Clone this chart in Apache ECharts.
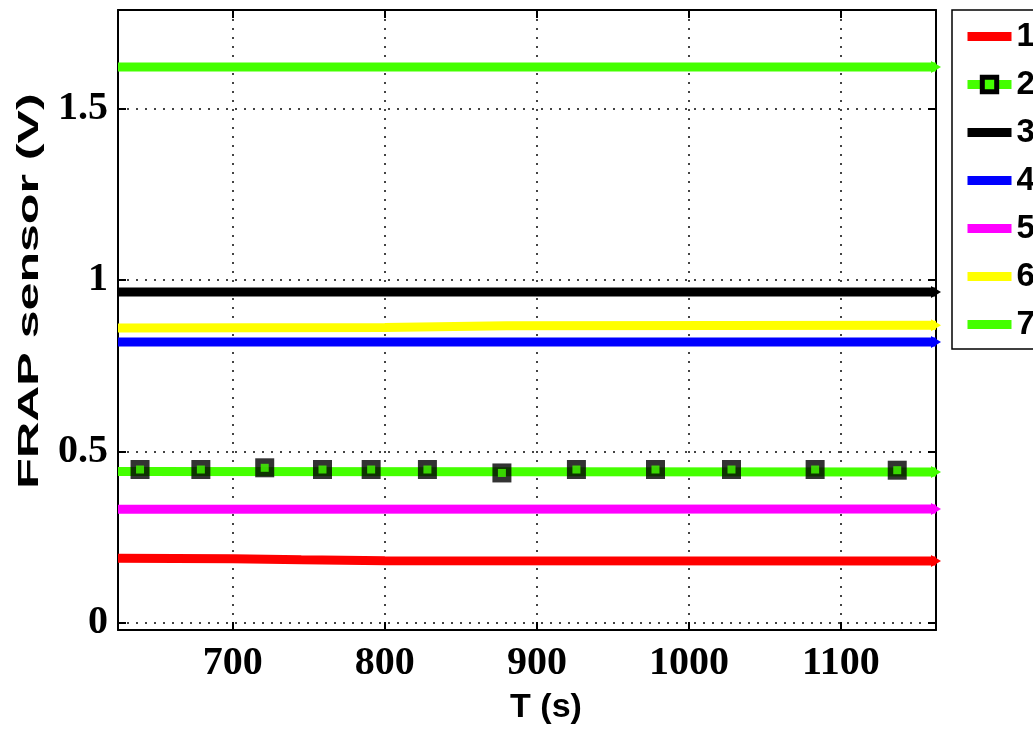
<!DOCTYPE html>
<html>
<head>
<meta charset="utf-8">
<script src="https://cdn.jsdelivr.net/npm/echarts@6/dist/echarts.min.js"></script>
<style>
    html, body { margin: 0; padding: 0; background: #fff; }
    #chart { width: 1033px; height: 735px; }
</style>
</head>
<body>
<div id="chart"></div>
<script>
// axis ranges (T in s, sensor in V)
const xRange = [624.5, 1162.5]
const yRange = [-0.021, 1.787]

// sensor traces, [T, V]
const s1 = [[624.5, 0.188], [700, 0.187], [745, 0.184], [800, 0.181], [1162.5, 0.180]]
const s2 = [[624.5, 0.441], [1162.5, 0.440]]
const s2Markers = [[639, 0.447], [679, 0.447], [721, 0.452], [759, 0.447], [791, 0.447], [828, 0.447],
    [877, 0.437], [926, 0.447], [978, 0.447], [1028, 0.447], [1083, 0.447], [1137, 0.445]]
const s3 = [[624.5, 0.965], [1162.5, 0.965]]
const s4 = [[624.5, 0.819], [1162.5, 0.819]]
const s5 = [[624.5, 0.331], [1162.5, 0.332]]
const s6 = [[624.5, 0.860], [800, 0.861], [880, 0.866], [1162.5, 0.868]]
const s7 = [[624.5, 1.621], [1162.5, 1.621]]

const names = ['1', '2', '3', '4', '5', '6', '7']
const colors = ['#ff0000', '#44ff00', '#000000', '#0000ff', '#ff00ff', '#ffff00', '#44ff00']
const traces = [s1, s2, s3, s4, s5, s6, s7]

const chart = echarts.init(document.getElementById('chart'))

const tickFont = { fontFamily: 'Liberation Serif', fontWeight: 'bold', fontSize: 40, color: '#000' }
const frame = { show: true, onZero: false, lineStyle: { color: '#000', width: 2 } }
const ticks = { show: true, inside: true, length: 8, lineStyle: { color: '#000', width: 2 } }
const dots = { show: true, lineStyle: { color: '#444', width: 2, type: [2, 7] } }

// last point gets a small arrow head like the original plot
function withArrow(pts, color) {
    return pts.map((p, i) => i === pts.length - 1
        ? { value: p, symbol: 'triangle', symbolRotate: -90, symbolSize: [12, 10], itemStyle: { color: color, borderWidth: 0 } }
        : { value: p, symbol: 'none' })
}

const series = traces.map((pts, i) => ({
    name: names[i],
    type: 'line',
    data: withArrow(pts, colors[i]),
    symbol: i === 1 ? 'rect' : 'none',
    symbolSize: 13,
    showSymbol: true,
    itemStyle: i === 1
        ? { color: colors[i], borderColor: '#000', borderWidth: 5 }
        : { color: colors[i] },
    lineStyle: { color: colors[i], width: 9 },
    z: 2,
    animation: false,
}))

// squares on trace 2: black block with the green line showing through
series.push({
    name: 'markers2',
    type: 'scatter',
    data: s2Markers,
    symbol: 'rect',
    symbolSize: 19,
    itemStyle: { color: '#000' },
    z: 5,
    animation: false,
})
series.push({
    name: 'markers2in',
    type: 'scatter',
    data: s2Markers,
    symbol: 'rect',
    symbolSize: 8,
    itemStyle: { color: colors[1] },
    z: 6,
    animation: false,
})

const option = {
    animation: false,
    grid: { left: 118, top: 10, right: 97, bottom: 105 },
    legend: {
        orient: 'vertical',
        left: 952,
        top: 10,
        padding: [10, 30, 8, 11],
        itemWidth: 44,
        itemHeight: 18,
        itemGap: 15,
        borderColor: '#000',
        borderWidth: 1.5,
        backgroundColor: '#fff',
        lineStyle: { width: 9 },
        textStyle: { fontFamily: 'Liberation Sans', fontWeight: 'bold', fontSize: 33, color: '#000' },
        data: names.map((n, i) => i === 1
            ? { name: n, itemStyle: { color: colors[1], borderColor: '#000', borderWidth: 5 } }
            : { name: n, itemStyle: { opacity: 0 } }),
    },
    xAxis: [
        {
            type: 'value',
            min: xRange[0],
            max: xRange[1],
            splitNumber: 5,
            axisLine: frame,
            axisTick: ticks,
            splitLine: dots,
            axisLabel: {
                ...tickFont,
                margin: 14,
                formatter: v => (Math.abs(v % 100) < 1e-6 ? String(v) : ''),
            },
            name: 'T (s)',
            nameLocation: 'middle',
            nameGap: 61,
            nameTextStyle: {
                fontFamily: 'Liberation Sans', fontWeight: 'bold', fontSize: 34, color: '#000',
                padding: [0, 0, 0, 38],
            },
        },
        {
            type: 'value',
            position: 'top',
            min: xRange[0],
            max: xRange[1],
            splitNumber: 5,
            axisLine: frame,
            axisTick: ticks,
            splitLine: { show: false },
            axisLabel: { show: false },
        },
    ],
    yAxis: [
        {
            type: 'value',
            min: yRange[0],
            max: yRange[1],
            splitNumber: 4,
            axisLine: frame,
            axisTick: ticks,
            splitLine: dots,
            axisLabel: {
                ...tickFont,
                margin: 10,
                formatter: v => (Math.abs(Math.round(v * 2) - v * 2) < 1e-6 ? String(Math.round(v * 2) / 2) : ''),
            },
        },
        {
            type: 'value',
            position: 'right',
            min: yRange[0],
            max: yRange[1],
            splitNumber: 4,
            axisLine: frame,
            axisTick: ticks,
            splitLine: { show: false },
            axisLabel: { show: false },
        },
    ],
    // stretched y title, as in the original figure
    graphic: [
        {
            type: 'text',
            x: 30,
            y: 291,
            rotation: Math.PI / 2,
            scaleX: 1.67,
            style: {
                text: 'FRAP sensor (V)',
                fontFamily: 'Liberation Sans',
                fontWeight: 'bold',
                fontSize: 30,
                fill: '#000',
                align: 'center',
                verticalAlign: 'middle',
            },
        },
    ],
    series: series,
}

chart.setOption(option)
</script>
</body>
</html>
